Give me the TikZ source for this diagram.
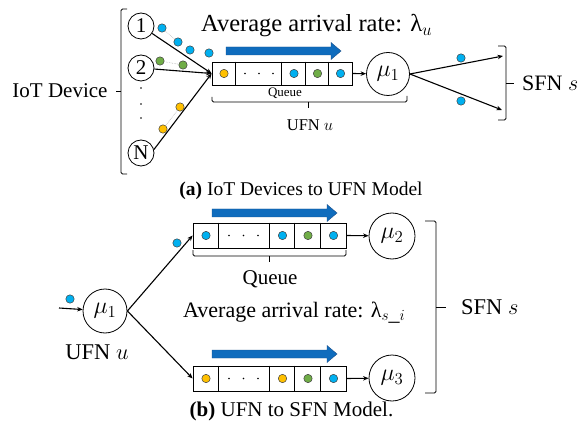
\RequirePackage{fix-cm}
\documentclass[tikz,border=0pt]{standalone}
\usepackage{fontspec}
\setmainfont{Liberation Serif}
\usetikzlibrary{arrows.meta}
\definecolor{pblue}{HTML}{00B0F0}
\definecolor{pgreen}{HTML}{70AD47}
\definecolor{porange}{HTML}{FFC000}
\definecolor{flowblue}{HTML}{0F6CBD}
\definecolor{flowedge}{HTML}{1A4F8A}
% thick flow arrow: #1 start x, #2 tip x, #3 centre y
\newcommand\flowarrow[3]{%
  \filldraw[fill=flowblue, draw=flowedge, line width=0.4pt]
    (#1,#3-4) -- (#2-10,#3-4) -- (#2-10,#3-8.5) -- (#2,#3)
    -- (#2-10,#3+8.5) -- (#2-10,#3+4) -- (#1,#3+4) -- cycle;}
\begin{document}
\begin{tikzpicture}[x=1pt,y=-1pt,
  big/.style={font=\fontsize{21}{24}\selectfont, inner sep=0pt},
  rate/.style={font=\fontsize{24.5}{28}\selectfont, inner sep=0pt},
  devnode/.style={circle, draw, line width=0.8pt, minimum size=26pt, inner sep=0pt,
    font=\fontsize{21}{24}\selectfont},
  srv/.style={circle, draw, line width=0.8pt, minimum size=44pt, inner sep=0pt,
    font=\fontsize{24}{27}\selectfont},
  queue/.style={draw, rectangle, line width=0.8pt, inner sep=0pt},
  pkt/.style={circle, draw=black!75, line width=0.5pt, minimum size=8.4pt, inner sep=0pt},
  arr/.style={-{Stealth[length=5.5pt,width=4.5pt]}, line width=1.1pt},
  trail/.style={densely dotted, gray!60, line width=0.6pt},
  brk/.style={line width=0.8pt, rounded corners=1.5pt},
  ell/.style={circle, fill=black, minimum size=1.8pt, inner sep=0pt}]
\useasboundingbox (0,0) rectangle (585,435);

% ---------------- (a) IoT devices to UFN ----------------
\node[big] (iot) at (60,91) {IoT Device};
\draw[brk] (127,9) -- (121,9) -- (121,174) -- (127,174);
\draw[line width=0.8pt] (121,91) -- (116,91);

\node[devnode] (d1) at (141,26) {1};
\node[devnode] (d2) at (141,68) {2};
\node[devnode] (dN) at (141,153) {N};
\node[ell] (v1) at (141,88) {};
\node[ell] (v2) at (141,104) {};
\node[ell] (v3) at (141,118) {};

% queue of the UFN
\node[queue, minimum width=140pt, minimum height=23pt] (q1) at (282,73.5) {};
\foreach \o in {24,70,94,117}
  \draw[line width=0.8pt] ([xshift=\o pt]q1.north west) -- ([xshift=\o pt]q1.south west);
\node[pkt, fill=porange] (q1a) at (224,73.5) {};
\node[ell, minimum size=1.6pt] (q1d1) at (245,73.5) {};
\node[ell, minimum size=1.6pt] (q1d2) at (259,73.5) {};
\node[ell, minimum size=1.6pt] (q1d3) at (273,73.5) {};
\node[pkt, fill=pblue] (q1b) at (294,73.5) {};
\node[pkt, fill=pgreen] (q1c) at (317.5,73.5) {};
\node[pkt, fill=pblue] (q1e) at (340.5,73.5) {};

\draw[arr] (d1) -- (q1.west);
\draw[arr] (d2) -- (q1.west);
\draw[arr] (dN.15) -- (q1.west);

% packets on their way
\node[pkt, fill=pblue] (b1) at (162,28) {};
\node[pkt, fill=pblue] (b2) at (178,42) {};
\node[pkt, fill=pblue] (b3) at (190,50) {};
\node[pkt, fill=pblue] (b4) at (209,53) {};
\node[pkt, fill=pgreen] (g1) at (160,61) {};
\node[pkt, fill=pgreen] (g2) at (183,65) {};
\node[pkt, fill=porange] (o1) at (180,107) {};
\node[pkt, fill=porange] (o2) at (163,129) {};
\draw[trail] (b1) -- (b2);
\draw[trail] (g1) -- (g2);
\draw[trail] (o1) -- (o2);

\flowarrow{226}{341}{51}
\node[rate, anchor=west] (rate1) at (201,26) {Average arrival rate: λ$_{u}$};

\node[srv, minimum size=43pt] (m1t) at (388,74) {$\mu_1$};
\draw[arr] (q1.east) -- (m1t);

\node[font=\fontsize{13}{15}\selectfont, inner sep=0pt] (ql1) at (285,93) {Queue};
\draw[brk] (212,97) -- (212,102) -- (407,102) -- (407,96);
\draw[line width=0.8pt] (308,102) -- (308,108);
\node[font=\fontsize{16.5}{19}\selectfont, inner sep=0pt] (ufn1) at (310,125) {UFN $u$};

\coordinate (o1end) at (503,56);
\coordinate (o2end) at (502,110);
\draw[arr] (m1t.east) -- (o1end);
\draw[arr] (m1t.east) -- (o2end);
\node[pkt, fill=pblue] (s1) at (461,58) {};
\node[pkt, fill=pblue] (s2) at (461,101) {};

\draw[brk] (498,46) -- (506,46) -- (506,120) -- (498,120);
\draw[line width=0.8pt] (506,83) -- (514,83);
\node[font=\fontsize{22}{25}\selectfont, inner sep=0pt, anchor=west] (sfn1) at (522,83) {SFN $s$};

\node[font=\fontsize{19.5}{22}\selectfont, inner sep=0pt] (capa) at (301,191)
  {\textbf{(a)} IoT Devices to UFN Model};

% ---------------- (b) UFN to SFN ----------------
\node[srv] (m1b) at (105,311) {$\mu_1$};
\coordinate (inp) at (59,308);
\draw[arr] (inp) -- (m1b);
\node[pkt, fill=pblue] (ib) at (70,299) {};
\node[font=\fontsize{22.5}{25}\selectfont, inner sep=0pt] (ufn2) at (97,352) {UFN $u$};

\node[queue, minimum width=153pt, minimum height=25pt] (q2) at (269.5,235.5) {};
\node[queue, minimum width=153pt, minimum height=25pt] (q3) at (269.5,378.5) {};
\foreach \q in {q2,q3}
  \foreach \o in {26,77,102,128}
    \draw[line width=0.8pt] ([xshift=\o pt]\q.north west) -- ([xshift=\o pt]\q.south west);

\node[pkt, fill=pblue] (q2a) at (206,235.5) {};
\node[ell, minimum size=1.6pt] (q2d1) at (229,235.5) {};
\node[ell, minimum size=1.6pt] (q2d2) at (243.5,235.5) {};
\node[ell, minimum size=1.6pt] (q2d3) at (258,235.5) {};
\node[pkt, fill=pblue] (q2b) at (282.5,235.5) {};
\node[pkt, fill=pgreen] (q2c) at (308,235.5) {};
\node[pkt, fill=pblue] (q2e) at (333.5,235.5) {};

\node[pkt, fill=porange] (q3a) at (206,378.5) {};
\node[ell, minimum size=1.6pt] (q3d1) at (229,378.5) {};
\node[ell, minimum size=1.6pt] (q3d2) at (243.5,378.5) {};
\node[ell, minimum size=1.6pt] (q3d3) at (258,378.5) {};
\node[pkt, fill=porange] (q3b) at (282.5,378.5) {};
\node[pkt, fill=pgreen] (q3c) at (308,378.5) {};
\node[pkt, fill=pblue] (q3e) at (333.5,378.5) {};

\draw[arr] (m1b.east) -- (q2.west);
\draw[arr] (m1b.east) -- (q3.west);
\node[pkt, fill=pblue] (tb) at (177,243) {};

\flowarrow{212}{337}{213}
\flowarrow{212}{337}{354}

\node[srv, minimum size=46pt] (m2) at (392,236) {$\mu_2$};
\node[srv, minimum size=46pt] (m3) at (392,378) {$\mu_3$};
\draw[arr] (q2.east) -- (m2);
\draw[arr] (q3.east) -- (m3);

\draw[brk] (193,250) -- (193,256) -- (346,256) -- (346,250);
\draw[line width=0.8pt] (269,256) -- (269,262);
\node[big] (ql2) at (270,279) {Queue};
\node[font=\fontsize{22}{25}\selectfont, inner sep=0pt, anchor=west] (rate2) at (183,313)
  {Average arrival rate: λ$_{s\_i}$};

\draw[brk] (425,221) -- (436,221) -- (436,393) -- (425,393);
\draw[line width=0.8pt] (436,307) -- (446,307);
\node[font=\fontsize{22.5}{25}\selectfont, inner sep=0pt, anchor=west] (sfn2) at (461,307) {SFN $s$};

\node[font=\fontsize{21}{24}\selectfont, inner sep=0pt] (capb) at (291.5,411)
  {\textbf{(b)} UFN to SFN Model.};
\end{tikzpicture}
\end{document}
